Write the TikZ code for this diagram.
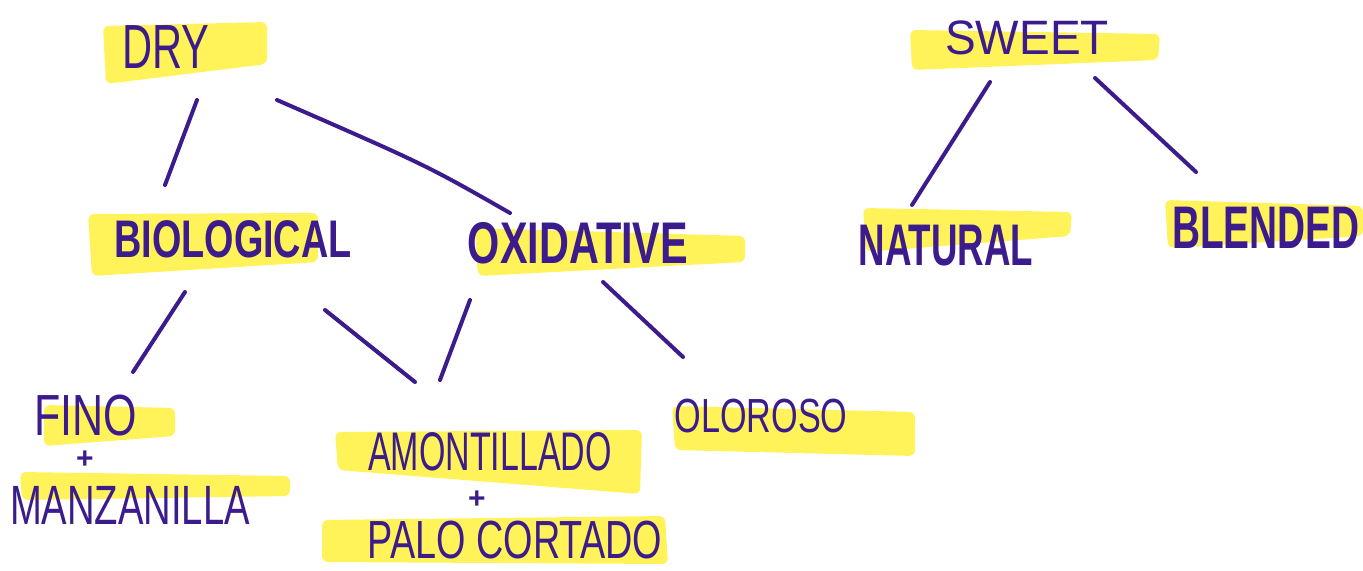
\documentclass[tikz,border=0pt]{standalone}
\usepackage{fontspec}
\setmainfont{Liberation Sans}
\usepackage{graphicx}
\usetikzlibrary{calc}
\definecolor{ink}{RGB}{60,28,140}
\definecolor{hl}{RGB}{255,241,60}
\newcommand\hw[3]{\scalebox{1}[#2]{\fontsize{#1}{#1}\selectfont #3}}
\begin{document}
\begin{tikzpicture}[x=0.5pt,y=-0.5pt,
  lbl/.style={text=ink, inner sep=0pt, anchor=center},
  link/.style={draw=ink, line width=2pt, line cap=round},
  hlbox/.style={fill=hl, opacity=0.85, rounded corners=3pt}]
\useasboundingbox (0,0) rectangle (1363,571);
% highlights
\fill[hlbox] (103,26) -- (267,22) -- (267,64) -- (106,84) -- cycle;
\fill[hlbox] (910,30) -- (1160,34) -- (1158,60) -- (912,70) -- cycle;
\fill[hlbox] (88,214) -- (318,213) -- (318,262) -- (92,276) -- cycle;
\fill[hlbox] (475,228) -- (745,236) -- (745,262) -- (478,276) -- cycle;
\fill[hlbox] (863,208) -- (1072,212) -- (1070,236) -- (866,252) -- cycle;
\fill[hlbox] (1165,200) -- (1363,206) -- (1363,236) -- (1168,248) -- cycle;
\fill[hlbox] (44,405) -- (175,408) -- (175,436) -- (44,446) -- cycle;
\fill[hlbox] (20,472) -- (290,476) -- (290,496) -- (22,500) -- cycle;
\fill[hlbox] (335,432) -- (642,430) -- (640,494) -- (338,470) -- cycle;
\fill[hlbox] (672,406) -- (915,412) -- (915,456) -- (675,450) -- cycle;
\fill[hlbox] (322,520) -- (665,516) -- (668,564) -- (322,562) -- cycle;
% labels
\node[lbl] (dry)   at (166,47)  {\hw{20.8}{1.5}{DRY}};
\node[lbl] (sweet) at (1027,38) {\hw{23}{1.05}{SWEET}};
\node[lbl] (bio)   at (233,239) {\hw{18.9}{1.4}{\bfseries BIOLOGICAL}};
\node[lbl] (oxi)   at (578,243) {\hw{20.7}{1.42}{\bfseries OXIDATIVE}};
\node[lbl] (nat)   at (946,246) {\hw{18.35}{1.6}{\bfseries NATURAL}};
\node[lbl] (blend) at (1266,228) {\hw{19.4}{1.55}{\bfseries BLENDED}};
\node[lbl] (fino)  at (86,416)  {\hw{21.5}{1.35}{FINO}};
\node[lbl] (plusa) at (85,460)  {\hw{15}{1}{\bfseries +}};
\node[lbl] (manz)  at (130,505) {\hw{19.1}{1.45}{MANZANILLA}};
\node[lbl] (amon)  at (490,452) {\hw{17}{1.6}{AMONTILLADO}};
\node[lbl] (plusb) at (477,500) {\hw{15}{1}{\bfseries +}};
\node[lbl] (palo)  at (515,540) {\hw{18.9}{1.42}{PALO CORTADO}};
\node[lbl] (olo)   at (761,416) {\hw{17.1}{1.4}{OLOROSO}};
% connectors
\draw[link] ($(dry)+(31,53)$) -- ($(bio)+(-68,-54)$);
\draw[link] ($(dry)+(111,53)$) .. controls ($(dry)+(260,118)$) .. ($(oxi)+(-68,-30)$);
\draw[link] ($(bio)+(-48,53)$) -- ($(fino)+(47,-44)$);
\draw[link] ($(bio)+(92,71)$) -- ($(amon)+(-75,-70)$);
\draw[link] ($(oxi)+(-108,57)$) -- ($(amon)+(-50,-72)$);
\draw[link] ($(oxi)+(25,39)$) -- ($(olo)+(-78,-59)$);
\draw[link] ($(sweet)+(-37,44)$) -- ($(nat)+(-34,-41)$);
\draw[link] ($(sweet)+(68,40)$) -- ($(blend)+(-70,-56)$);
\end{tikzpicture}
\end{document}
